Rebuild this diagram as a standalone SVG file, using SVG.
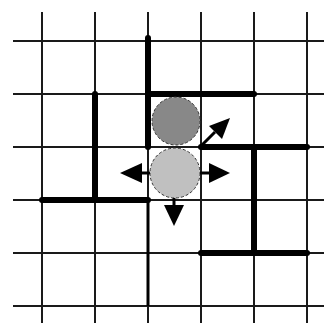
<svg xmlns="http://www.w3.org/2000/svg" width="324" height="323" viewBox="0 0 324 323">
<style>
.grid line{stroke:#1a1a1a;stroke-width:2}
.wall{stroke:#000;stroke-width:6;stroke-linecap:round;fill:none}
.arrow{stroke:#000;stroke-width:3;fill:none}
.head{fill:#000}
</style>
<rect width="324" height="323" fill="#fff"/>
<g id="grid" class="grid">
<line x1="42" y1="12" x2="42" y2="323"/>
<line x1="95" y1="12" x2="95" y2="323"/>
<line x1="148" y1="12" x2="148" y2="323"/>
<line x1="201" y1="12" x2="201" y2="323"/>
<line x1="254" y1="12" x2="254" y2="323"/>
<line x1="307" y1="12" x2="307" y2="323"/>
<line x1="13" y1="41" x2="324" y2="41"/>
<line x1="13" y1="94" x2="324" y2="94"/>
<line x1="13" y1="147" x2="324" y2="147"/>
<line x1="13" y1="200" x2="324" y2="200"/>
<line x1="13" y1="253" x2="324" y2="253"/>
<line x1="13" y1="306" x2="324" y2="306"/>
</g>
<g id="walls">
<line class="wall" x1="148" y1="38" x2="148" y2="147" stroke-linecap="butt" stroke-width="7"/>
<line class="wall" x1="148" y1="94" x2="254" y2="94"/>
<line class="wall" x1="95" y1="94" x2="95" y2="200"/>
<line class="wall" x1="42" y1="200" x2="148" y2="200"/>
<line class="wall" x1="201" y1="147" x2="307" y2="147"/>
<line class="wall" x1="254" y1="147" x2="254" y2="253"/>
<line class="wall" x1="201" y1="253" x2="307" y2="253"/>
<line x1="148" y1="200" x2="148" y2="306" stroke="#000" stroke-width="3"/>
</g>
<g id="robot-dark">
<circle cx="176" cy="121" r="24" fill="#888" stroke="#333" stroke-width="1" stroke-dasharray="3,2"/>
</g>
<g id="robot-light">
<circle cx="175" cy="173" r="25" fill="#c0c0c0" stroke="#333" stroke-width="1" stroke-dasharray="3,2"/>
</g>
<g id="connectors">
<line class="arrow" x1="150" y1="173" x2="140" y2="173"/>
<polygon class="head" points="120,173 142,163 142,183"/>
<line class="arrow" x1="200" y1="173" x2="211" y2="173"/>
<polygon class="head" points="230,173 209,163 209,183"/>
<line class="arrow" x1="174" y1="198" x2="174" y2="207"/>
<polygon class="head" points="174,226 164,205 184,205"/>
<line class="arrow" x1="201" y1="146" x2="215" y2="132"/>
<polygon class="head" points="230,118 222,139 209,126"/>
</g>
</svg>
